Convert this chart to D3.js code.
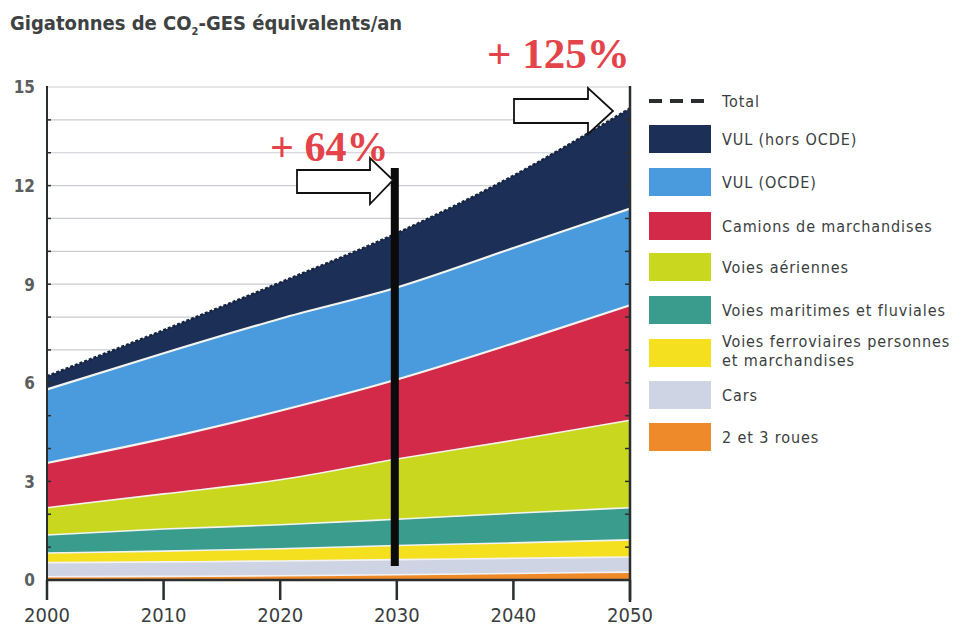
<!DOCTYPE html>
<html><head><meta charset="utf-8">
<script src="https://cdn.jsdelivr.net/npm/d3@7/dist/d3.min.js"></script>
<style>body{margin:0;background:#fff}svg{display:block}</style>
</head><body>
<svg id="c" width="970" height="628"></svg>
<script>
// ---- data ----
const years = [2000, 2010, 2020, 2030, 2040, 2050];
const seriesNames = ["2 et 3 roues", "Cars", "Voies ferroviaires personnes et marchandises",
  "Voies maritimes et fluviales", "Voies aériennes", "Camions de marchandises", "VUL (OCDE)", "VUL (hors OCDE)"];
const deuxTroisRoues = [0.10, 0.11, 0.13, 0.16, 0.20, 0.24];
const cars           = [0.43, 0.44, 0.45, 0.46, 0.46, 0.46];
const ferroviaires   = [0.29, 0.33, 0.37, 0.43, 0.47, 0.52];
const maritimes      = [0.55, 0.67, 0.73, 0.80, 0.90, 0.98];
const aeriennes      = [0.83, 1.07, 1.37, 1.83, 2.22, 2.66];
const camions        = [1.36, 1.68, 2.10, 2.42, 2.95, 3.50];
const vulOCDE        = [2.24, 2.60, 2.80, 2.80, 2.90, 2.94];
const vulHorsOCDE    = [0.40, 0.70, 1.10, 1.65, 2.20, 3.05];
const yTicks = [0, 3, 6, 9, 12, 15];
const xTicks = [2000, 2010, 2020, 2030, 2040, 2050];
const annotations = [{year: 2030, label: "+ 64%"}, {year: 2050, label: "+ 125%"}];

const colors = ["#ee8a2a", "#cfd4e4", "#f4e01e", "#3a9c8c", "#c9d81e", "#d22a48", "#4a9ade", "#1c2f57"];
const legendOrder = [
  {name: "Total", dash: true},
  {name: "VUL (hors OCDE)", color: colors[7]},
  {name: "VUL (OCDE)", color: colors[6]},
  {name: "Camions de marchandises", color: colors[5]},
  {name: "Voies aériennes", color: colors[4]},
  {name: "Voies maritimes et fluviales", color: colors[3]},
  {name: ["Voies ferroviaires personnes", "et marchandises"], color: colors[2]},
  {name: "Cars", color: colors[1]},
  {name: "2 et 3 roues", color: colors[0]}
];

const seriesValues = [deuxTroisRoues, cars, ferroviaires, maritimes, aeriennes, camions, vulOCDE, vulHorsOCDE];
const table = years.map((y, i) => {
  const row = {year: y};
  seriesNames.forEach((n, k) => row[n] = seriesValues[k][i]);
  return row;
});

const svg = d3.select("#c");
const x = d3.scaleLinear().domain([2000, 2050]).range([47, 630]);
const y = d3.scaleLinear().domain([0, 15]).range([580, 87]);
const font = "'DejaVu Sans Condensed','Liberation Sans Narrow','Open Sans',sans-serif";

// grid
svg.append("g").selectAll("line").data(d3.range(1, 16)).join("line")
  .attr("x1", x(2000)).attr("x2", x(2050))
  .attr("y1", d => y(d)).attr("y2", d => y(d))
  .attr("stroke", "#c9cdd2").attr("stroke-width", 1.2);

// stacked areas
const stack = d3.stack().keys(seriesNames);
const layers = stack(table);
const area = d3.area().x(d => x(d.data.year)).y0(d => y(d[0])).y1(d => y(d[1])).curve(d3.curveMonotoneX);
const topLine = d3.line().x(d => x(d.data.year)).y(d => y(d[1])).curve(d3.curveMonotoneX);
svg.append("g").selectAll("path").data(layers).join("path")
  .attr("d", area).attr("fill", (d, i) => colors[i]);
svg.append("g").selectAll("path").data(layers.slice(0, 7)).join("path")
  .attr("d", topLine).attr("fill", "none")
  .attr("stroke", (d, i) => i >= 4 ? "#f4f4ee" : "#f3f3f3")
  .attr("stroke-width", (d, i) => i >= 5 ? 2.2 : 1.6);
// total
svg.append("path").datum(layers[7]).attr("d", topLine)
  .attr("fill", "none").attr("stroke", "#16243f").attr("stroke-width", 2.5)
  .attr("stroke-dasharray", "3,2");

// axes
const axisColor = "#2a2e2e";
svg.append("line").attr("x1", x(2000)).attr("x2", x(2000)).attr("y1", y(15) - 1).attr("y2", y(0) + 2)
  .attr("stroke", axisColor).attr("stroke-width", 2);
svg.append("line").attr("x1", x(2050)).attr("x2", x(2050)).attr("y1", y(15) - 1).attr("y2", y(0) + 22)
  .attr("stroke", axisColor).attr("stroke-width", 2.5);
svg.append("line").attr("x1", x(2000) - 1).attr("x2", x(2050)).attr("y1", y(0)).attr("y2", y(0))
  .attr("stroke", axisColor).attr("stroke-width", 2.5);

// minor ticks on y axes
svg.append("g").selectAll("line").data(d3.range(1, 15)).join("line")
  .attr("x1", x(2000)).attr("x2", x(2000) + 4).attr("y1", d => y(d)).attr("y2", d => y(d))
  .attr("stroke", axisColor).attr("stroke-width", 1.5);
svg.append("g").selectAll("line").data(d3.range(1, 15)).join("line")
  .attr("x1", x(2050) - 5).attr("x2", x(2050)).attr("y1", d => y(d)).attr("y2", d => y(d))
  .attr("stroke", axisColor).attr("stroke-width", 1.5);

// y labels
svg.append("g").selectAll("text").data(yTicks).join("text")
  .attr("x", 35).attr("y", d => y(d)).attr("dy", "0.38em")
  .attr("text-anchor", "end").attr("font-family", font).attr("font-size", 17)
  .attr("font-weight", "bold").attr("fill", "#5a5e5e").text(d => d);

// x ticks + labels
const xg = svg.append("g");
xg.selectAll("line").data(xTicks).join("line")
  .attr("x1", d => x(d)).attr("x2", d => x(d)).attr("y1", y(0)).attr("y2", y(0) + 20)
  .attr("stroke", axisColor).attr("stroke-width", 2.5);
xg.selectAll("text").data(xTicks).join("text")
  .attr("x", d => x(d)).attr("y", 622).attr("text-anchor", "middle")
  .attr("font-family", font).attr("font-size", 20).attr("fill", "#3a3e3e").text(d => d);

// title
const t = svg.append("text").attr("x", 10).attr("y", 30).attr("font-family", font)
  .attr("font-size", 20).attr("font-weight", "bold").attr("fill", "#3e4242");
t.append("tspan").text("Gigatonnes de CO");
t.append("tspan").attr("font-size", 11).attr("dy", 5).text("2");
t.append("tspan").attr("dy", -5).text("-GES équivalents/an");

// annotation bar at 2030
svg.append("rect").attr("x", x(2030) - 6).attr("width", 8)
  .attr("y", 168).attr("height", 566 - 168).attr("fill", "#0b0b0b");

// block arrows
function blockArrow(x0, xb, xt, yTop, yBot, hTop, hBot, yTip) {
  return `M${x0},${yTop}L${xb},${yTop}L${xb},${hTop}L${xt},${yTip}L${xb},${hBot}L${xb},${yBot}L${x0},${yBot}Z`;
}
svg.append("path").attr("d", blockArrow(297, 370, 393, 170, 193, 158, 204, 180))
  .attr("fill", "#fff").attr("stroke", "#111").attr("stroke-width", 1.8);
svg.append("path").attr("d", blockArrow(514, 588, 613, 99, 123, 88, 134, 111))
  .attr("fill", "#fff").attr("stroke", "#111").attr("stroke-width", 1.8);

// percent labels
svg.append("text").attr("x", 270).attr("y", 161).attr("font-family", "'Liberation Serif',serif")
  .attr("font-weight", "bold").attr("font-size", 42).attr("fill", "#e4434a").text(annotations[0].label);
svg.append("text").attr("x", 487).attr("y", 68).attr("font-family", "'Liberation Serif',serif")
  .attr("font-weight", "bold").attr("font-size", 43).attr("fill", "#e4434a").text(annotations[1].label);

// legend
const lg = svg.append("g");
const rows = [101, 139, 182, 226, 267, 310, 353, 395, 437];
legendOrder.forEach((d, i) => {
  const cy = rows[i];
  if (d.dash) {
    lg.append("line").attr("x1", 649).attr("x2", 710).attr("y1", cy).attr("y2", cy)
      .attr("stroke", "#2a2e30").attr("stroke-width", 4).attr("stroke-dasharray", "13,8");
  } else {
    lg.append("rect").attr("x", 649).attr("y", cy - 14).attr("width", 62).attr("height", 28)
      .attr("fill", d.color);
  }
  if (Array.isArray(d.name)) {
    d.name.forEach((line, j) => {
      lg.append("text").attr("x", 722).attr("y", cy - 6 + j * 19)
        .attr("font-family", font).attr("font-size", 16).attr("letter-spacing", 0.9)
        .attr("fill", "#3a3e3e").text(line);
    });
  } else {
    lg.append("text").attr("x", 722).attr("y", cy + 6)
      .attr("font-family", font).attr("font-size", 16).attr("letter-spacing", 0.9)
      .attr("fill", "#3a3e3e").text(d.name);
  }
});
</script>
</body></html>
